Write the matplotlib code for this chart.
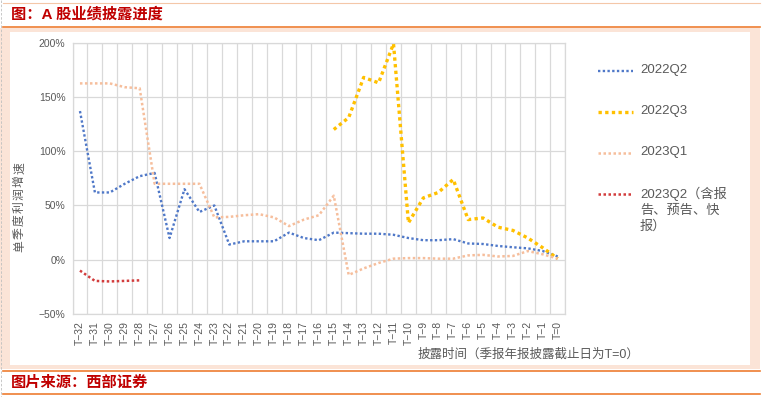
import numpy as np
import matplotlib
matplotlib.use("Agg")
import matplotlib.pyplot as plt
from matplotlib.lines import Line2D
from matplotlib.patches import Rectangle
from matplotlib.colors import LinearSegmentedColormap

plt.rcParams['font.family'] = ['Liberation Sans', 'Noto Sans CJK SC', 'DejaVu Sans']

categories = ["T−32", "T−31", "T−30", "T−29", "T−28", "T−27", "T−26", "T−25", "T−24",
              "T−23", "T−22", "T−21", "T−20", "T−19", "T−18", "T−17", "T−16", "T−15",
              "T−14", "T−13", "T−12", "T−11", "T−10", "T−9", "T−8", "T−7", "T−6",
              "T−5", "T−4", "T−3", "T−2", "T−1", "T=0"]
nan = np.nan
s_2022q2 = [137, 62, 62, 70, 77, 80, 20, 65, 44, 50, 14, 17, 17, 17, 25, 20, 18,
            25, 24.5, 24, 24, 23, 20, 18, 18, 19, 15, 14.5, 12.7, 11.5, 10.5, 8, 3]
s_2022q3 = [nan] * 17 + [120, 131, 168, 163, 199, 34, 57, 62, 74, 37, 38.5, 30, 27,
                         20, 11, 1]
s_2023q1 = [162.5, 162.5, 162.5, 159, 158, 70, 70, 70, 70, 39, 39.5, 41, 42, 39, 31,
            37, 41, 59, -14, -8, -3, 1, 1.5, 1.5, 1, 1, 4, 4.5, 3, 3.5, 8, 5, 1]
s_2023q2 = [-10, -19.5, -20, -19.5, -19] + [nan] * 28

series_names = ["2022Q2", "2022Q3", "2023Q1", "2023Q2（含报\n告、预告、快\n报）"]
series_values = [s_2022q2, s_2022q3, s_2023q1, s_2023q2]
series_colors = ["#4F78C8", "#FFC000", "#F6BE9C", "#D23C3C"]
series_lw = [1.7, 2.4, 1.8, 1.8]
yticks = [-50, 0, 50, 100, 150, 200]
ytick_labels = ["−50%", "0%", "50%", "100%", "150%", "200%"]
ylabel_text = "单季度利润增速"

W, H = 763, 397
fig = plt.figure(figsize=(W / 100, H / 100), dpi=100)
fig.patch.set_facecolor("white")


def fx(x):
    return x / W


def fy(y):
    return 1 - y / H


def rect(x0, y0, x1, y1, color, z=0):
    fig.patches.append(Rectangle((fx(x0), fy(y1)), fx(x1) - fx(x0), fy(y0) - fy(y1),
                                 transform=fig.transFigure, facecolor=color,
                                 edgecolor="none", zorder=z))


def hline(y, x0, x1, color, lw, ls="-"):
    fig.add_artist(Line2D([fx(x0), fx(x1)], [fy(y), fy(y)], transform=fig.transFigure,
                          color=color, lw=lw, ls=ls))


# frame
rect(0, 28, 760, 369, "#FBE4D7")
rect(10, 32, 750, 365, "white")
hline(2.5, 3, 760, "#F4C7A8", 0.8)
hline(27, 3, 760, "#ED7D31", 1.2)
hline(371, 3, 760, "#ED7D31", 1.2)
hline(394, 3, 760, "#ED7D31", 1.2)
fig.add_artist(Line2D([fx(1.5), fx(1.5)], [fy(0), fy(397)], transform=fig.transFigure,
                      color="#BFBFBF", lw=0.6, ls=(0, (3, 2))))

fig.text(fx(11), fy(14.5), "图：A 股业绩披露进度", color="#C00000", fontsize=11,
         fontweight="bold", ha="left", va="center")
fig.text(fx(11), fy(382.5), "图片来源：西部证券", color="#C00000", fontsize=11,
         fontweight="bold", ha="left", va="center")

# axes
left, right, top, bottom = 72.5, 565.2, 42.7, 314.0
pos = [fx(left), fy(bottom), fx(right) - fx(left), fy(top) - fy(bottom)]
bg = fig.add_axes(pos, zorder=0)
cmap = LinearSegmentedColormap.from_list("g", ["#FFFFFF", "#EDEDED"])
bg.imshow(np.linspace(0, 1, 256).reshape(-1, 1), cmap=cmap, aspect="auto",
          extent=[0, 1, 0, 1])
bg.axis("off")

ax = fig.add_axes(pos, zorder=1)
ax.patch.set_alpha(0)
x = np.arange(len(categories))
for name, vals, c, lw in zip(series_names, series_values, series_colors, series_lw):
    ax.plot(x, vals, color=c, lw=lw, ls=(0, (1, 1)), dash_capstyle="butt",
            solid_capstyle="butt", zorder=3, clip_on=False)

ax.set_xlim(-0.5, len(categories) - 0.5)
ax.set_ylim(-50, 200)
ax.set_xticks(x)
ax.set_xticklabels(categories, rotation=90, fontsize=7.5, color="#595959")
ax.set_xticks(np.arange(len(categories) + 1) - 0.5, minor=True)
ax.set_yticks(yticks)
ax.set_yticklabels(ytick_labels, fontsize=7.5, color="#595959")
ax.tick_params(axis="both", which="both", length=0)
ax.tick_params(axis="x", pad=5)
ax.tick_params(axis="y", pad=5)
ax.grid(True, axis="y", which="major", color="#D9D9D9", lw=0.9)
ax.grid(True, axis="x", which="minor", color="#D9D9D9", lw=0.9)
ax.grid(False, axis="x", which="major")
for sp in ax.spines.values():
    sp.set_color("#D9D9D9")
    sp.set_linewidth(0.9)
ax.set_axisbelow(True)

# y label: rotated characters with letter spacing
n = len(ylabel_text)
y_start, y_end = 246, 168
for k, ch in enumerate(ylabel_text):
    yy = y_start + (y_end - y_start) * k / (n - 1)
    fig.text(fx(20), fy(yy), ch, rotation=90, fontsize=8.5, color="#595959",
             ha="center", va="center")
fig.text(fx(528), fy(355), "披露时间（季报年报披露截止日为T=0）", fontsize=9,
         color="#595959", ha="center", va="center")

# legend
leg_y = [70.7, 111.7, 152.7, 194]
for name, c, lw, yy in zip(series_names, series_colors, series_lw, leg_y):
    fig.add_artist(Line2D([fx(598), fx(633)], [fy(yy), fy(yy)], transform=fig.transFigure,
                          color=c, lw=lw, ls=(0, (1, 1)), dash_capstyle="butt"))
    fig.text(fx(640), fy(yy - 7), name, fontsize=9.5, color="#595959", ha="left",
             va="top", linespacing=1.35)

fig.savefig("out.png", dpi=100)
